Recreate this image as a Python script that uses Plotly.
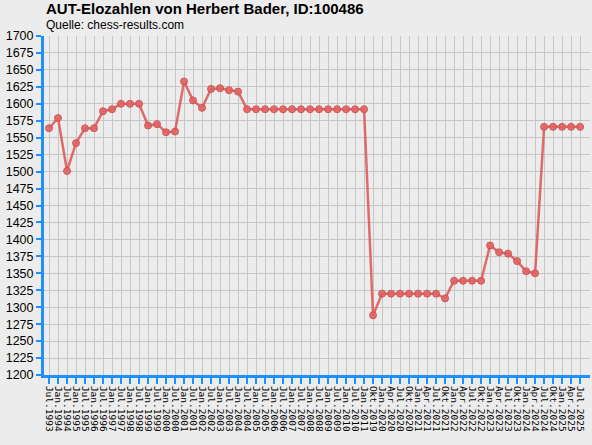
import plotly.graph_objects as go

# Stichtage der Elo-Listen (Achsenbeschriftung)
labels = [
    "Jul.1993", "Jan.1994", "Jul.1994", "Jan.1995", "Jul.1995", "Jan.1996", "Jul.1996",
    "Jan.1997", "Jul.1997", "Jan.1998", "Jul.1998", "Jan.1999", "Jul.1999", "Jan.2000",
    "Jul.2000", "Jan.2001", "Jul.2001", "Jan.2002", "Jul.2002", "Jan.2003", "Jul.2003",
    "Jan.2004", "Jul.2004", "Jan.2005", "Jul.2005", "Jan.2006", "Jul.2006", "Jan.2007",
    "Jul.2007", "Jan.2008", "Jul.2008", "Jan.2009", "Jul.2009", "Jan.2010", "Jul.2010",
    "Jan.2011", "Okt.2019", "Jan.2020", "Apr.2020", "Jul.2020", "Okt.2020", "Jan.2021",
    "Apr.2021", "Jul.2021", "Okt.2021", "Jan.2022", "Apr.2022", "Jul.2022", "Okt.2022",
    "Jan.2023", "Apr.2023", "Jul.2023", "Okt.2023", "Jan.2024", "Apr.2024", "Jul.2024",
    "Okt.2024", "Jan.2025", "Apr.2025", "Jul.2025",
]

# Elozahlen
elo = [
    1564, 1579, 1501, 1542, 1564, 1564, 1589,
    1592, 1600, 1600, 1600, 1568, 1570, 1558,
    1559, 1633, 1605, 1594, 1622, 1623, 1620,
    1618, 1592, 1592, 1592, 1592, 1592, 1592,
    1592, 1592, 1592, 1592, 1592, 1592, 1592,
    1592, 1288, 1320, 1320, 1320, 1320, 1320,
    1320, 1320, 1313, 1339, 1339, 1339, 1339,
    1391, 1381, 1379, 1368, 1353, 1350, 1566,
    1566, 1566, 1566, 1566,
]

y_ticks = list(range(1200, 1701, 25))

blue = "#1e8fff"
bg = "#ececec"

fig = go.Figure()
fig.add_trace(go.Scatter(
    x=labels, y=elo,
    mode="lines+markers",
    line=dict(color="rgba(222,92,92,0.9)", width=2.5),
    marker=dict(size=7, color="rgba(224,100,100,0.9)",
                line=dict(color="rgba(205,80,80,0.9)", width=1)),
    showlegend=False,
    hoverinfo="x+y",
))

fig.update_layout(
    width=592, height=445,
    margin=dict(l=44, r=2, t=36, b=70),
    paper_bgcolor=bg, plot_bgcolor=bg,
    font=dict(family="Liberation Sans, Arial, sans-serif", color="black"),
    annotations=[
        dict(text="<b>AUT-Elozahlen von Herbert Bader, ID:100486</b>",
             xref="paper", yref="paper", x=0.0, y=1.0,
             xanchor="left", yanchor="bottom", yshift=17, showarrow=False,
             font=dict(size=15, family="Liberation Sans, Arial")),
        dict(text="Quelle: chess-results.com",
             xref="paper", yref="paper", x=0.0, y=1.0,
             xanchor="left", yanchor="bottom", yshift=2, showarrow=False,
             font=dict(size=12, family="Liberation Sans, Arial")),
    ],
)

fig.update_xaxes(
    type="category",
    automargin=False,
    range=[-0.556, 60.1],
    tickmode="array", tickvals=labels, ticktext=labels,
    showgrid=True, gridcolor="#c6c6c6", gridwidth=1,
    showline=True, linecolor=blue, linewidth=3,
    ticks="outside", tickcolor=blue, ticklen=6, tickwidth=2,
    tickangle=90,
    tickfont=dict(family="DejaVu Sans Mono", size=9.5, color="black"),
    zeroline=False,
    fixedrange=True,
)
fig.update_yaxes(
    automargin=False,
    range=[1200, 1700],
    tickvals=y_ticks,
    showgrid=True, gridcolor="#c6c6c6", gridwidth=1,
    showline=True, linecolor=blue, linewidth=3,
    ticks="outside", tickcolor=blue, ticklen=5, tickwidth=2,
    tickfont=dict(family="Liberation Sans, Arial", size=12.5, color="black"),
    zeroline=False,
    fixedrange=True,
)

# Seitenrand des Browsers entfernen, damit die Grafik bei (0,0) beginnt
fig.write_html("out.html", config={"displayModeBar": False},
               post_script="document.body.style.margin='0';document.body.style.overflow='hidden';")
